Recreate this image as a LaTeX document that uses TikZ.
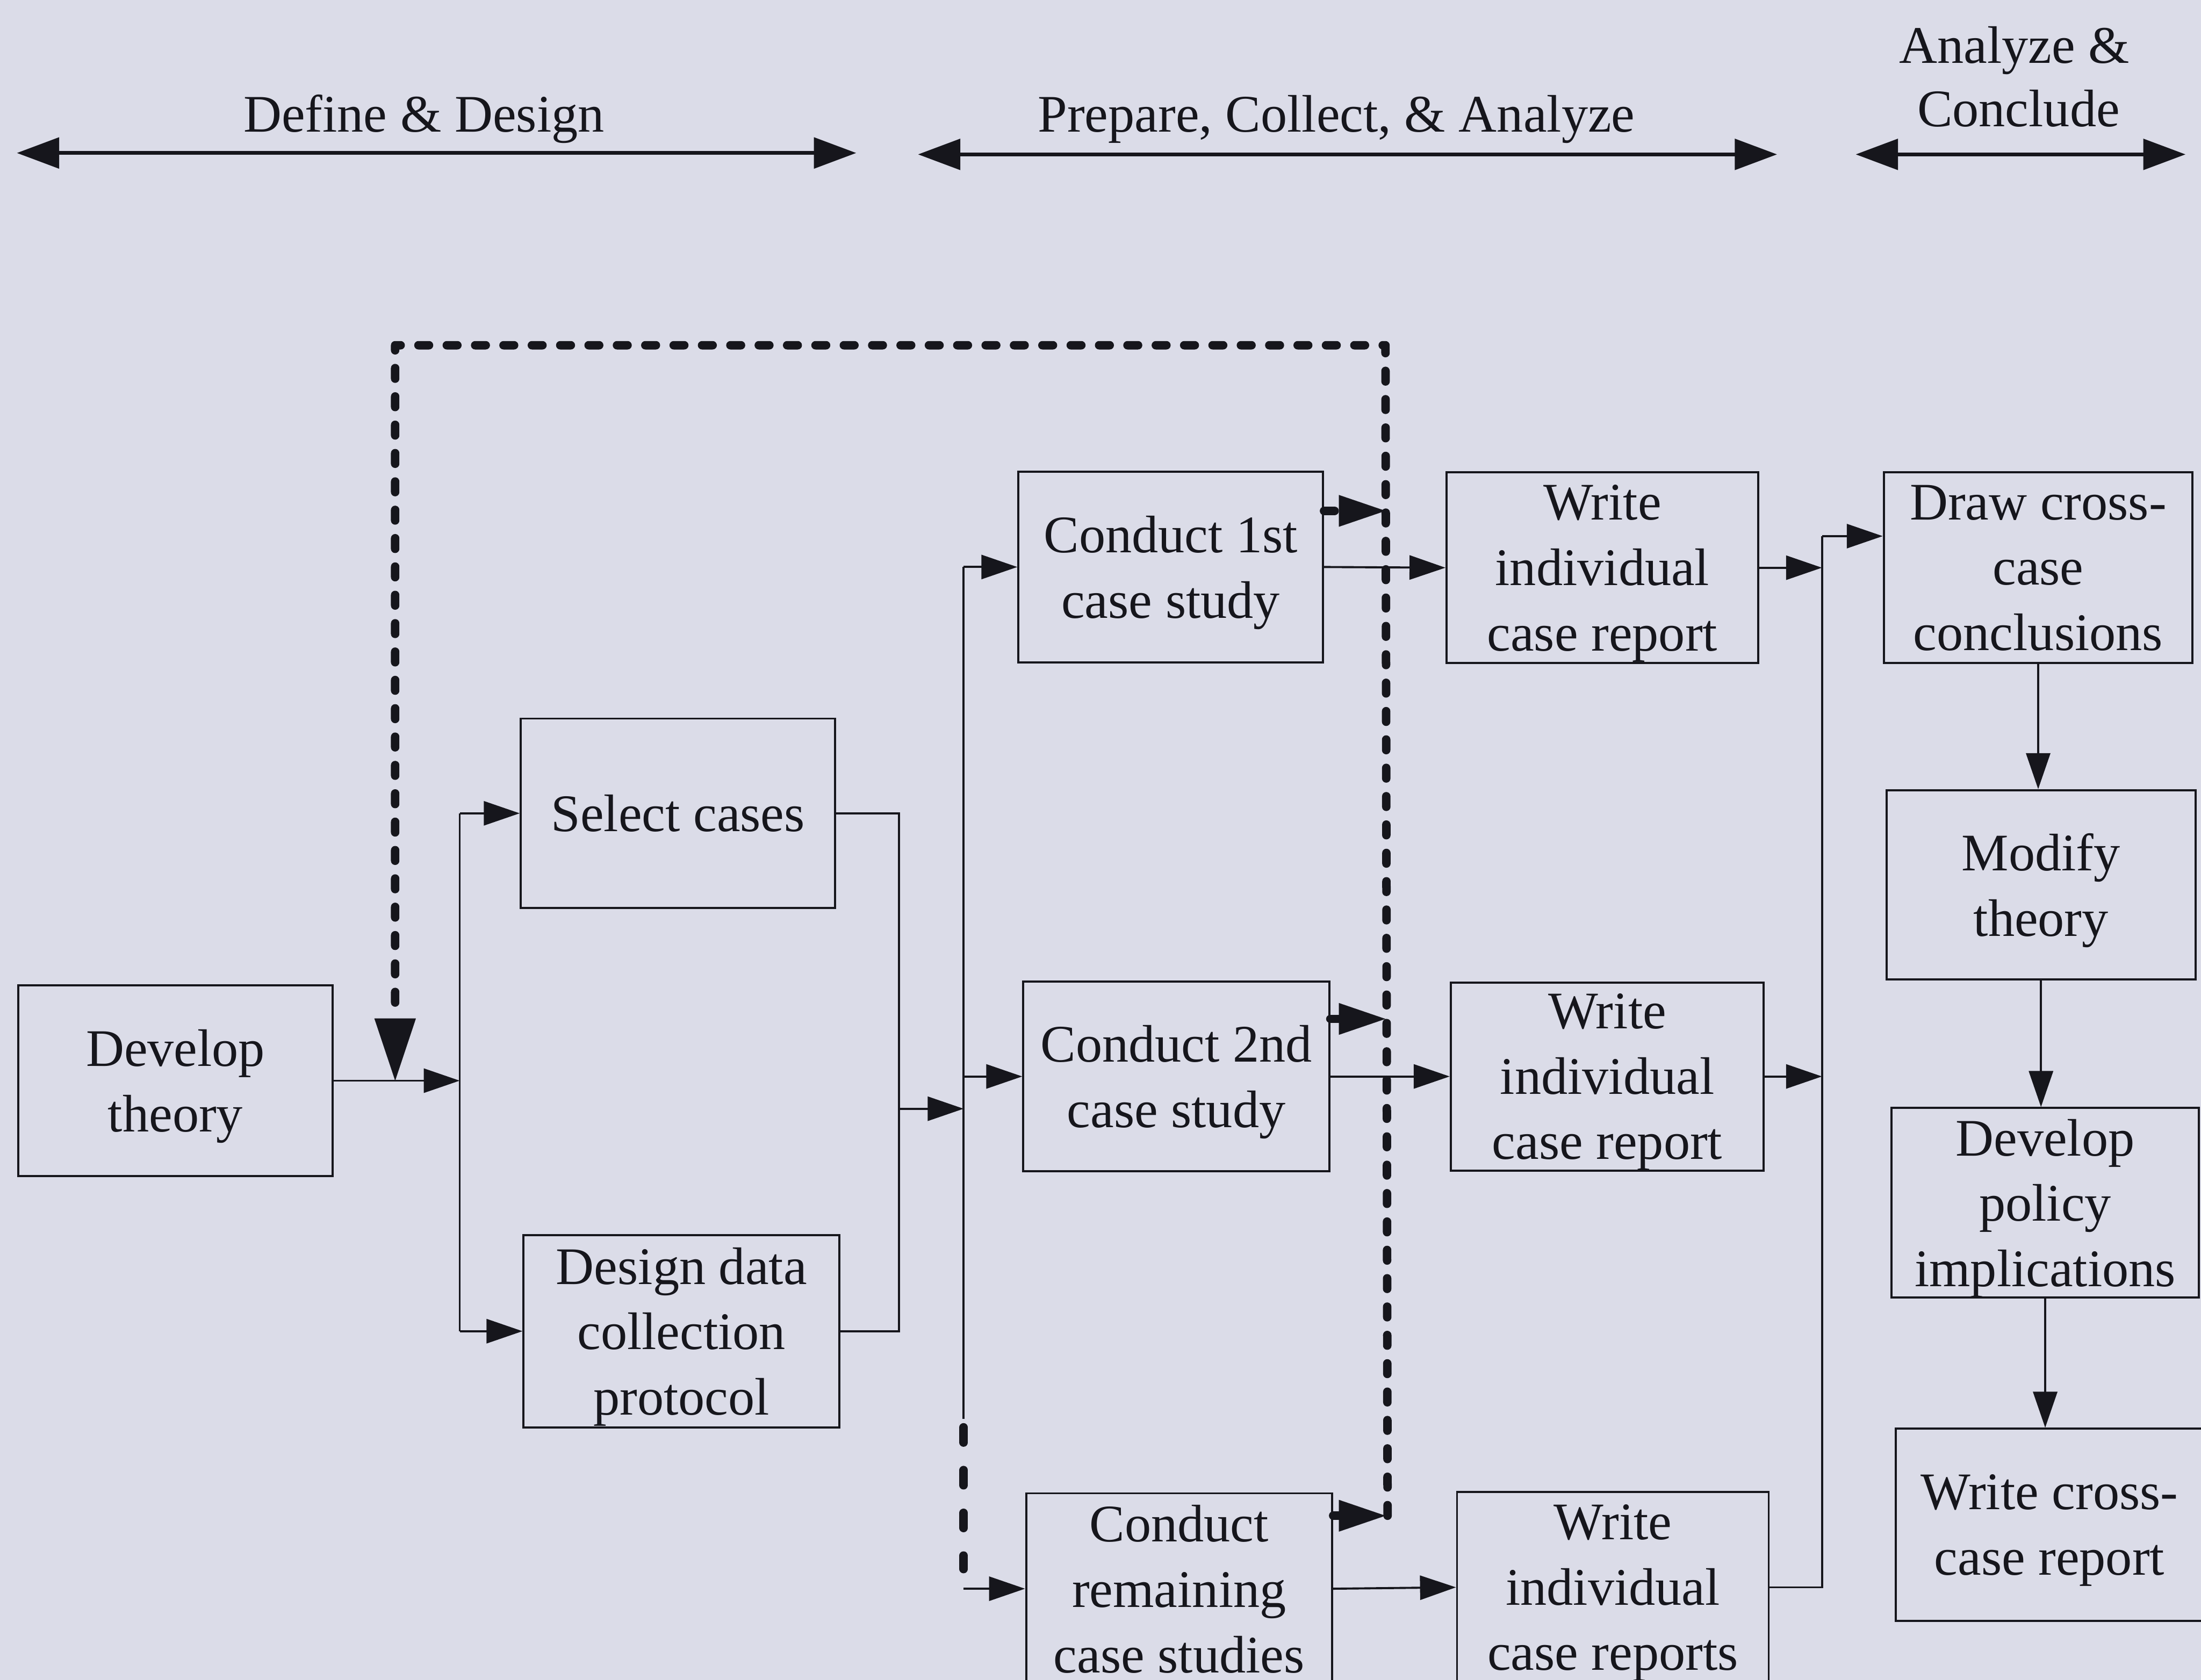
\documentclass[tikz,border=0pt]{standalone}
\usepackage{fontspec}
\setmainfont{Liberation Serif}
\usetikzlibrary{arrows.meta}
\definecolor{paper}{RGB}{219,220,232}
\definecolor{ink}{RGB}{22,22,28}

\begin{document}
\begin{tikzpicture}[x=0.3316mm, y=-0.3316mm,
  every node/.style={text=ink, font=\fontsize{35.5}{44}\selectfont},
  box/.style n args={2}{draw=ink, line width=1.4pt, inner sep=0pt, align=center,
    text depth=0pt, minimum width=#1*0.3316mm, minimum height=#2*0.3316mm},
  wire/.style={draw=ink, line width=1.4pt},
  flow/.style={wire, -{Triangle[length=0.85cm,width=0.57cm]}},
  phase/.style={draw=ink, line width=2.6pt,
    {Triangle[length=1.0cm,width=0.72cm]}-{Triangle[length=1.0cm,width=0.72cm]}},
  loop/.style={draw=ink, line width=0.2cm, line cap=round, line join=round,
    dash pattern=on 0.25cm off 0.42cm},
  feed/.style={loop, -{Triangle[length=1.1cm,width=0.75cm,line width=0.1pt]}},
  loopend/.style={loop, -{Triangle[length=1.47cm,width=0.98cm,line width=0.1pt]}},
  tail/.style={draw=ink, line width=0.2cm, line cap=round,
    dash pattern=on 0.36cm off 0.65cm}
]
% page
\fill[paper] (0,0) rectangle (1568,1197);
\useasboundingbox (0,0) rectangle (1568,1197);

% phase headings
\node[anchor=base] (hdA) at (302,94) {Define \& Design};
\node[anchor=base] (hdB) at (952,94) {Prepare, Collect, \& Analyze};
\node[anchor=base] (hdC1) at (1435,45) {Analyze \&};
\node[anchor=base] (hdC2) at (1438,90) {Conclude};
\coordinate (pAl) at (12,109);   \coordinate (pAr) at (610,109);
\coordinate (pBl) at (654,110);  \coordinate (pBr) at (1266,110);
\coordinate (pCl) at (1322,110); \coordinate (pCr) at (1557,110);
\draw[phase] (pAl) -- (pAr);
\draw[phase] (pBl) -- (pBr);
\draw[phase] (pCl) -- (pCr);

% process boxes
\node[box={224}{136}] (dev) at (125,770) {Develop\\theory};
\node[box={224}{135}] (sel) at (483,579.5) {Select cases};
\node[box={225}{137}] (des) at (485.5,948.5) {Design data\\collection\\protocol};
\node[box={217}{136}] (c1) at (834,404) {Conduct 1st\\case study};
\node[box={218}{135}] (c2) at (838,767) {Conduct 2nd\\case study};
\node[box={218}{136}] (c3) at (840,1132) {Conduct\\remaining\\case studies};
\node[box={222}{136}] (w1) at (1141.5,404.5) {Write\\individual\\case report};
\node[box={223}{134}] (w2) at (1145,767) {Write\\individual\\case report};
\node[box={222}{136}] (w3) at (1149,1131) {Write\\individual\\case reports};
\node[box={220}{136}] (dcc) at (1452,404.5) {Draw cross-\\case\\conclusions};
\node[box={220}{135}] (mod) at (1454,630.5) {Modify\\theory};
\node[box={219}{135}] (pol) at (1457,857) {Develop\\policy\\implications};
\node[box={219}{137}] (wcr) at (1460,1086.5) {Write cross-\\case report};

% bus lines
\coordinate (bA) at (327.5,0);
\coordinate (bB) at (640.5,0);
\coordinate (bC) at (686.5,0);
\coordinate (bD) at (1298,0);
\coordinate (jB) at (640.5,790);
\coordinate (jC) at (686.5,790);
\coordinate (cSolidEnd) at (686.5,1011);
\coordinate (cDashA) at (686.5,1017);
\coordinate (cDashB) at (686.5,1118);
\coordinate (dTop) at (1298,382);

% define & design
\draw[flow] (dev.east) -- (dev.east -| bA);
\draw[wire] (sel.west -| bA) -- (des.west -| bA);
\draw[flow] (sel.west -| bA) -- (sel.west);
\draw[flow] (des.west -| bA) -- (des.west);
\draw[wire] (sel.east) -| (bB |- des.east) -- (des.east);
\draw[flow] (jB) -- (jC);

% case studies
\draw[wire] (c1.west -| bC) -- (cSolidEnd);
\draw[tail] (cDashA) -- (cDashB);
\draw[flow] (c1.west -| bC) -- (c1.west);
\draw[flow] (c2.west -| bC) -- (c2.west);
\draw[flow] (c3.west -| bC) -- (c3.west);
\draw[flow] (c1.east) -- (w1.west);
\draw[flow] (c2.east) -- (w2.west);
\draw[flow] (c3.east) -- (w3.west);

% reports to cross-case analysis
\draw[flow] (w1.east) -- (w1.east -| bD);
\draw[flow] (w2.east) -- (w2.east -| bD);
\draw[wire] (w3.east) -| (dTop);
\draw[flow] (dTop) -- (dTop -| dcc.west);
\draw[flow] (dcc.south) -- (dcc.south |- mod.north);
\draw[flow] (mod.south) -- (mod.south |- pol.north);
\draw[flow] (pol.south) -- (pol.south |- wcr.north);

% feedback loop
\coordinate (lpBot) at (988.5,1080);
\coordinate (lpTop) at (987,246);
\coordinate (lpLeft) at (281.5,246);
\coordinate (fy1) at (0,364);
\coordinate (fy2) at (0,726);
\coordinate (fy3) at (0,1080);
\draw[loopend] (lpBot) -- (lpTop) -- (lpLeft) -- (lpLeft |- dev.east);
\draw[feed] (c1.east |- fy1) -- (lpTop |- fy1);
\draw[feed] (c2.east |- fy2) -- (lpTop |- fy2);
\draw[feed] (c3.east |- fy3) -- (lpTop |- fy3);
\end{tikzpicture}
\end{document}
